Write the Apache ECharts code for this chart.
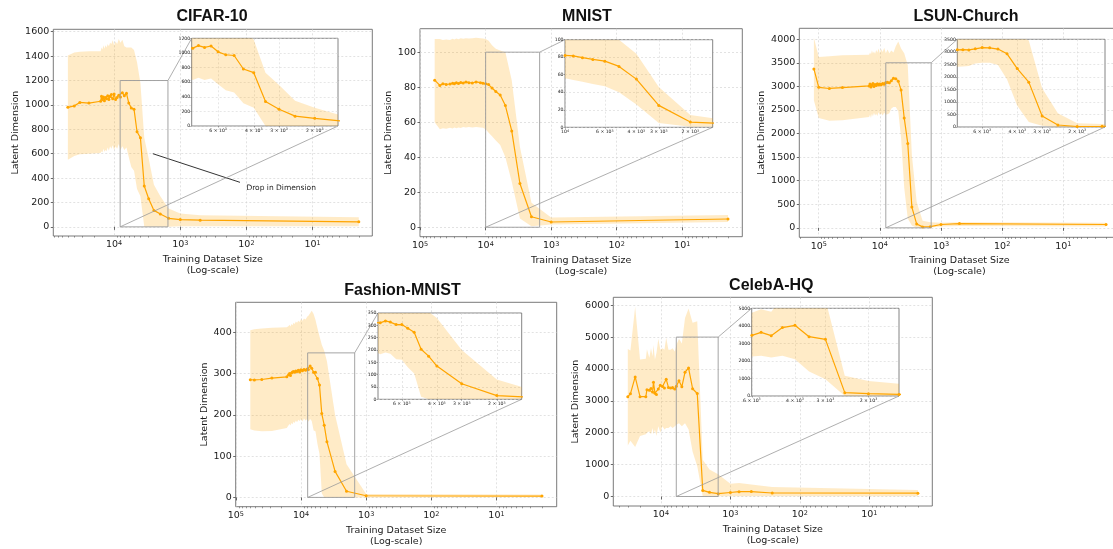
<!DOCTYPE html>
<html><head><meta charset="utf-8">
<script src="https://cdn.jsdelivr.net/npm/echarts@6/dist/echarts.min.js"></script>
<style>html,body{margin:0;padding:0;background:#fff}#c{width:1113px;height:549px}</style>
</head><body><div id="c"></div>
<script>
// ---------------- DATA ----------------
const cifarSize = [50000, 40000, 33000, 24000, 16000, 15500, 15000, 14500, 14000, 13500, 13000, 12500, 12000, 11500, 11000, 10500, 10000, 9500, 9000, 8500, 8000, 7500, 7000, 6500, 6000, 5500, 5000, 4500, 4000, 3500, 3000, 2500, 2000, 1500, 1000, 500, 2];
const cifarMean = [980, 992, 1020, 1015, 1030, 1070, 1045, 1065, 1035, 1060, 1050, 1075, 1045, 1070, 1085, 1050, 1090, 1045, 1060, 1080, 1065, 1100, 1075, 1095, 1015, 975, 965, 780, 730, 335, 230, 135, 105, 70, 60, 55, 41];
const cifarHigh = [1405, 1430, 1435, 1440, 1440, 1470, 1455, 1490, 1460, 1490, 1470, 1500, 1480, 1510, 1500, 1530, 1490, 1520, 1500, 1540, 1510, 1535, 1480, 1470, 1470, 1470, 1450, 1350, 1180, 730, 560, 345, 250, 150, 110, 95, 78];
const cifarLow = [550, 580, 595, 600, 605, 620, 610, 640, 615, 630, 620, 650, 625, 660, 640, 670, 630, 660, 640, 680, 630, 660, 630, 650, 570, 490, 460, 310, 250, 0, 0, 0, 0, 0, 5, 5, 5];

const mnistSize = [60000, 50000, 45000, 40000, 35000, 32000, 30000, 28000, 26000, 24000, 22000, 20000, 18000, 16000, 14000, 12000, 11000, 10000, 9000, 8000, 7000, 6000, 5000, 4000, 3000, 2000, 1000, 2];
const mnistMean = [84, 81, 82, 81.6, 81.8, 82.2, 81.9, 82.5, 82.1, 82.7, 82.4, 83, 82.6, 82.4, 83, 82.6, 82.3, 82, 81.5, 79.5, 77.5, 75.5, 69.5, 55, 25, 6, 3, 4.7];
const mnistHigh = [107.5, 107.5, 107, 107.3, 107, 107.6, 107.2, 107.8, 107.4, 108, 107.6, 108, 107.8, 108, 108.2, 108, 107.8, 107.5, 106.5, 104, 102, 101, 100, 84, 46, 14, 5.5, 7];
const mnistLow = [60, 56, 56.5, 56.2, 56.8, 56.4, 56.9, 56.5, 57, 56.7, 57.2, 57, 57.3, 57, 57.2, 57, 56.8, 56, 54, 52, 49.5, 47, 40, 26, 5, 0.5, 1.5, 3];

const lsunSize = [120000, 100000, 67000, 41000, 15000, 14500, 14000, 13500, 13000, 12500, 12000, 11500, 11000, 10500, 10000, 9500, 9000, 8500, 8000, 7500, 7000, 6500, 6000, 5500, 5000, 4500, 4000, 3500, 3000, 2500, 2000, 1500, 1000, 500, 2];
const lsunMean = [3370, 2980, 2955, 2975, 3010, 3050, 2985, 3030, 3060, 2995, 3040, 3020, 3055, 3030, 3050, 3035, 3060, 3045, 3080, 3085, 3075, 3120, 3170, 3160, 3110, 2920, 2330, 1790, 440, 80, 20, 25, 70, 90, 70];
const lsunHigh = [4030, 3620, 3640, 3660, 3670, 3720, 3680, 3760, 3700, 3740, 3690, 3770, 3720, 3800, 3700, 3790, 3730, 3820, 3700, 3780, 3700, 3760, 3720, 3850, 3950, 3800, 3700, 3450, 1550, 550, 150, 120, 110, 120, 110];
const lsunLow = [2700, 2330, 2270, 2280, 2350, 2400, 2330, 2420, 2360, 2440, 2380, 2420, 2370, 2450, 2390, 2430, 2380, 2440, 2400, 2410, 2430, 2530, 2560, 2560, 2470, 1900, 850, 200, 50, 0, 0, 5, 30, 40, 30];

const fashionSize = [60000, 52000, 40000, 28000, 16500, 15500, 15000, 14500, 14000, 13500, 13000, 12500, 12000, 11500, 11000, 10500, 10000, 9500, 9000, 8500, 8000, 7700, 7250, 6850, 6400, 6000, 5600, 5200, 4800, 4400, 4000, 3000, 2000, 1000, 2];
const fashionMean = [285, 284.5, 285.5, 289, 292, 297, 300, 295, 301, 304, 305, 303, 306, 305, 308, 304, 309, 307, 310, 308, 311, 310, 318, 313, 303, 303, 288, 272, 203, 175, 135, 63, 15, 4, 3.2];
const fashionHigh = [405, 407, 409, 411, 412, 415, 418, 414, 420, 417, 423, 420, 426, 423, 428, 425, 432, 428, 433, 431, 438, 440, 446, 452, 444, 430, 410, 390, 370, 355, 330, 200, 80, 8, 7];
const fashionLow = [165, 162, 160, 161, 168, 175, 178, 174, 180, 177, 183, 180, 186, 182, 188, 185, 190, 184, 191, 186, 190, 183, 190, 185, 162, 160, 130, 105, 10, 0, 0, 0, 0, 0, 0.5];

const celebaSize = [30000, 27500, 23500, 20000, 16500, 15900, 14700, 13900, 13200, 12800, 12200, 11600, 10900, 10200, 9500, 8900, 8400, 7800, 7250, 6800, 6300, 6000, 5500, 5000, 4500, 4000, 3500, 3000, 2500, 2000, 1500, 1000, 750, 500, 250, 2];
const celebaMean = [3130, 3220, 3750, 3130, 3130, 3350, 3330, 3390, 3280, 3580, 3240, 3200, 3370, 3490, 3450, 3400, 3680, 3420, 3400, 3420, 3370, 3460, 3630, 3440, 3900, 4030, 3380, 3230, 190, 130, 90, 125, 150, 155, 110, 105];
const celebaHigh = [4630, 4580, 5950, 4300, 4320, 4620, 4350, 4650, 4400, 4750, 4300, 4500, 4950, 4600, 4650, 4600, 4980, 4600, 4600, 4650, 4550, 4750, 4950, 4800, 5600, 5900, 5450, 5500, 1150, 850, 700, 400, 420, 380, 300, 200];
const celebaLow = [1600, 1750, 1550, 1900, 1950, 2000, 2050, 1950, 2150, 1950, 2100, 1900, 2200, 2000, 2200, 2100, 2150, 2150, 2200, 2150, 2200, 2250, 2300, 2200, 2300, 2100, 1400, 950, 0, 10, 10, 10, 10, 10, 10, 10];

// tick values
const xTicksMain4 = [10000, 1000, 100, 10];
const xTicksMain5 = [100000, 10000, 1000, 100, 10];
const xTicksInset = [6000, 4000, 3000, 2000];
const xTicksInsetMnist = [10000, 6000, 4000, 3000, 2000];
const cifarYTicks = [0, 200, 400, 600, 800, 1000, 1200, 1400, 1600];
const mnistYTicks = [0, 20, 40, 60, 80, 100];
const lsunYTicks = [0, 500, 1000, 1500, 2000, 2500, 3000, 3500, 4000];
const fashionYTicks = [0, 100, 200, 300, 400];
const celebaYTicks = [0, 1000, 2000, 3000, 4000, 5000, 6000];

const titles = ['CIFAR-10', 'MNIST', 'LSUN-Church', 'Fashion-MNIST', 'CelebA-HQ'];
const xName = 'Training Dataset Size\n(Log-scale)';
const yName = 'Latent Dimension';
const annotationText = 'Drop in Dimension';
const annotationTextAt = [100, 300];
const arrowFrom = [125, 365];
const arrowTo = [2600, 600];

// ---------------- LAYOUT ----------------
const panels = [
  {x: cifarSize, mean: cifarMean, low: cifarLow, high: cifarHigh, yTicks: cifarYTicks, xTicks: xTicksMain4,
   grid: {left: 53.3, top: 29.3, width: 319, height: 206.7}, xr: [1.25, 83000], yr: [-75, 1620], gap: 33, tx: 212, ty: 9,
   inset: {grid: {left: 191.7, top: 38.3, width: 146.3, height: 87.7}, xr: [1535, 8100], yMax: 1200, yInt: 200, xTicks: xTicksInset}},
  {x: mnistSize, mean: mnistMean, low: mnistLow, high: mnistHigh, yTicks: mnistYTicks, xTicks: xTicksMain5,
   grid: {left: 420, top: 28.7, width: 322.3, height: 208}, xr: [1.21, 100500], yr: [-5.4, 113.4], gap: 26.5, tx: 587, ty: 8.5,
   inset: {grid: {left: 565, top: 39.7, width: 147.7, height: 87.6}, xr: [1500, 10010], yMax: 100, yInt: 20, xTicks: xTicksInsetMnist}},
  {x: lsunSize, mean: lsunMean, low: lsunLow, high: lsunHigh, yTicks: lsunYTicks, xTicks: xTicksMain5,
   grid: {left: 799.3, top: 28.3, width: 320.3, height: 209}, xr: [1.2, 208000], yr: [-201, 4231], gap: 33, tx: 966, ty: 8.5,
   inset: {grid: {left: 957.3, top: 39.3, width: 147.7, height: 87.7}, xr: [1450, 8000], yMax: 3500, yInt: 500, xTicks: xTicksInset}},
  {x: fashionSize, mean: fashionMean, low: fashionLow, high: fashionHigh, yTicks: fashionYTicks, xTicks: xTicksMain5,
   grid: {left: 235.7, top: 302.3, width: 321, height: 204.4}, xr: [1.19, 100500], yr: [-22.5, 472.5], gap: 26.5, tx: 402.5, ty: 282.5,
   inset: {grid: {left: 378, top: 313, width: 143.7, height: 86.3}, xr: [1500, 7900], yMax: 350, yInt: 50, xTicks: xTicksInset}},
  {x: celebaSize, mean: celebaMean, low: celebaLow, high: celebaHigh, yTicks: celebaYTicks, xTicks: xTicksMain4,
   grid: {left: 613.3, top: 297.3, width: 319, height: 208.7}, xr: [1.24, 48500], yr: [-298, 6248], gap: 33, tx: 771.3, ty: 277.5,
   inset: {grid: {left: 751.7, top: 308.3, width: 147.3, height: 87.7}, xr: [1500, 6010], yMax: 5000, yInt: 1000, xTicks: xTicksInset}}
];

const ORANGE = '#FFA500';
const BAND = 'rgba(255,165,0,0.22)';
const GRIDC = '#d6d6d6';
const FRAME = '#6b6b6b';
const TXT = '#1a1a1a';
const FONT = 'DejaVu Sans';

const minorTicks = [];
for (let e = 0; e <= 5; e++) for (let m = 2; m <= 9; m++) minorTicks.push(m * Math.pow(10, e));

function powLabel(v) {
  const e = Math.round(Math.log10(v));
  return '10{s|' + e + '}';
}
function insetLabel(v) {
  const e = Math.floor(Math.log10(v) + 1e-9);
  const m = Math.round(v / Math.pow(10, e));
  return m === 1 ? '10{s|' + e + '}' : m + ' \u00d7 10{s|' + e + '}';
}

function bandSeries(p, ax, z) {
  return {
    type: 'custom', xAxisIndex: ax, yAxisIndex: ax, z: z, silent: true,
    data: p.x.map((v, k) => [v, p.low[k], p.high[k]]),
    encode: {x: 0, y: [1, 2]},
    renderItem: function (params, api) {
      if (params.dataIndex !== 0) return null;
      const pts = [];
      for (let k = 0; k < p.x.length; k++) pts.push(api.coord([p.x[k], p.high[k]]));
      for (let k = p.x.length - 1; k >= 0; k--) pts.push(api.coord([p.x[k], p.low[k]]));
      const cs = params.coordSys;
      return {
        type: 'polygon', shape: {points: pts}, style: {fill: BAND, stroke: null},
        clipPath: {type: 'rect', shape: {x: cs.x, y: cs.y, width: cs.width, height: cs.height}}
      };
    }
  };
}

const grids = [], xAxes = [], yAxes = [], series = [], titleList = [];

panels.forEach((p, i) => {
  grids[i] = Object.assign({show: true, borderColor: FRAME, borderWidth: 0.9, backgroundColor: '#fff', containLabel: false, outerBoundsMode: 'none', z: 0}, p.grid);
  grids[5 + i] = Object.assign({show: true, borderColor: '#777', borderWidth: 0.9, backgroundColor: '#fff', containLabel: false, outerBoundsMode: 'none', z: 10}, p.inset.grid);

  xAxes[i] = {
    type: 'log', gridIndex: i, min: p.xr[0], max: p.xr[1], inverse: true,
    axisLine: {show: false},
    axisTick: {show: true, customValues: p.xTicks, length: 3, lineStyle: {color: '#444', width: 0.8}},
    axisLabel: {customValues: p.xTicks, formatter: powLabel, fontFamily: FONT, fontSize: 9.5, color: TXT, margin: 4,
      rich: {s: {fontSize: 6.5, fontFamily: FONT, color: TXT, verticalAlign: 'top', lineHeight: 8}}},
    splitLine: {show: true, lineStyle: {color: GRIDC, width: 0.7, type: [2, 2]}},
    name: xName, nameLocation: 'middle', nameGap: 18,
    nameTextStyle: {fontFamily: FONT, fontSize: 9.5, color: TXT, lineHeight: 11}
  };
  xAxes[10 + i] = {
    type: 'log', gridIndex: i, min: p.xr[0], max: p.xr[1], inverse: true, position: 'bottom',
    axisLine: {show: false}, axisLabel: {show: false}, splitLine: {show: false},
    axisTick: {show: true, customValues: minorTicks, length: 1.6, lineStyle: {color: '#555', width: 0.6}}
  };
  xAxes[5 + i] = {
    type: 'log', gridIndex: 5 + i, min: p.inset.xr[0], max: p.inset.xr[1], inverse: true, z: 11,
    axisLine: {show: false},
    axisTick: {show: true, customValues: p.inset.xTicks, length: 1.5, lineStyle: {color: '#555', width: 0.5}},
    axisLabel: {customValues: p.inset.xTicks, formatter: insetLabel, fontFamily: FONT, fontSize: 4.6, color: TXT, margin: 2,
      rich: {s: {fontSize: 3.3, fontFamily: FONT, color: TXT, verticalAlign: 'top', lineHeight: 4}}},
    splitLine: {show: true, lineStyle: {color: GRIDC, width: 0.6, type: [2, 2]}}
  };
  yAxes[i] = {
    type: 'value', gridIndex: i, min: p.yr[0], max: p.yr[1],
    axisLine: {show: false},
    axisTick: {show: true, customValues: p.yTicks, length: 2.5, lineStyle: {color: '#444', width: 0.8}},
    axisLabel: {customValues: p.yTicks, formatter: v => String(v), fontFamily: FONT, fontSize: 9.5, color: TXT, margin: 4},
    splitLine: {show: true, lineStyle: {color: GRIDC, width: 0.7, type: [2, 2]}},
    name: yName, nameLocation: 'middle', nameGap: p.gap,
    nameTextStyle: {fontFamily: FONT, fontSize: 9.5, color: TXT}
  };
  yAxes[5 + i] = {
    type: 'value', gridIndex: 5 + i, min: 0, max: p.inset.yMax, interval: p.inset.yInt, z: 11,
    axisLine: {show: false},
    axisTick: {show: true, length: 1.5, lineStyle: {color: '#555', width: 0.5}},
    axisLabel: {formatter: v => String(v), fontFamily: FONT, fontSize: 4.6, color: TXT, margin: 1.5},
    splitLine: {show: true, lineStyle: {color: GRIDC, width: 0.6, type: [2, 2]}}
  };

  titleList.push({text: titles[i], left: p.tx, top: p.ty, textAlign: 'center', padding: 0,
    textStyle: {fontFamily: 'Liberation Sans', fontWeight: 'bold', fontSize: 16, color: '#111'}});

  [[i, 1], [5 + i, 12]].forEach(([ax, z]) => {
    series.push(bandSeries(p, ax, z));
    const s = {type: 'line', xAxisIndex: ax, yAxisIndex: ax, symbol: 'circle', symbolSize: 3, showAllSymbol: true,
      itemStyle: {color: ORANGE}, lineStyle: {color: ORANGE, width: 1.2}, z: z + 1,
      data: p.x.map((v, k) => [v, p.mean[k]])};
    if (i === 0 && ax === 0) {
      s.markLine = {silent: true, animation: false, symbol: ['none', 'arrow'], symbolSize: [0, 7],
        label: {show: false}, lineStyle: {color: '#000', width: 0.8, type: 'solid'},
        data: [[{coord: arrowFrom}, {coord: arrowTo}]]};
    }
    series.push(s);
  });
});

const chart = echarts.init(document.getElementById('c'), null, {renderer: 'canvas'});
chart.setOption({
  animation: false,
  backgroundColor: '#fff',
  title: titleList,
  grid: grids,
  xAxis: xAxes,
  yAxis: yAxes,
  series: series
});

// zoom rectangles, connectors and annotation text, placed through the axes' own scales
const gfx = [];
panels.forEach((p, i) => {
  const lo = p.inset.xr[0], hi = p.inset.xr[1], ym = p.inset.yMax;
  const rBL = chart.convertToPixel({gridIndex: i}, [hi, 0]);
  const rTR = chart.convertToPixel({gridIndex: i}, [lo, ym]);
  const iTL = chart.convertToPixel({gridIndex: 5 + i}, [hi, ym]);
  const iBR = chart.convertToPixel({gridIndex: 5 + i}, [lo, 0]);
  gfx.push({type: 'rect', z: 5, silent: true,
    shape: {x: rBL[0], y: rTR[1], width: rTR[0] - rBL[0], height: rBL[1] - rTR[1]},
    style: {fill: 'none', stroke: '#9a9a9a', lineWidth: 0.9}});
  gfx.push({type: 'line', z: 5, silent: true, shape: {x1: rTR[0], y1: rTR[1], x2: iTL[0], y2: iTL[1]},
    style: {stroke: '#9a9a9a', lineWidth: 0.8}});
  gfx.push({type: 'line', z: 5, silent: true, shape: {x1: rBL[0], y1: rBL[1], x2: iBR[0], y2: iBR[1]},
    style: {stroke: '#9a9a9a', lineWidth: 0.8}});
});
const tp = chart.convertToPixel({gridIndex: 0}, annotationTextAt);
gfx.push({type: 'text', z: 6, silent: true, x: tp[0], y: tp[1] + 1.5,
  style: {text: annotationText, fontFamily: FONT, fontSize: 7.5, fill: '#222', align: 'left', verticalAlign: 'bottom'}});
chart.setOption({graphic: gfx});
</script></body></html>
